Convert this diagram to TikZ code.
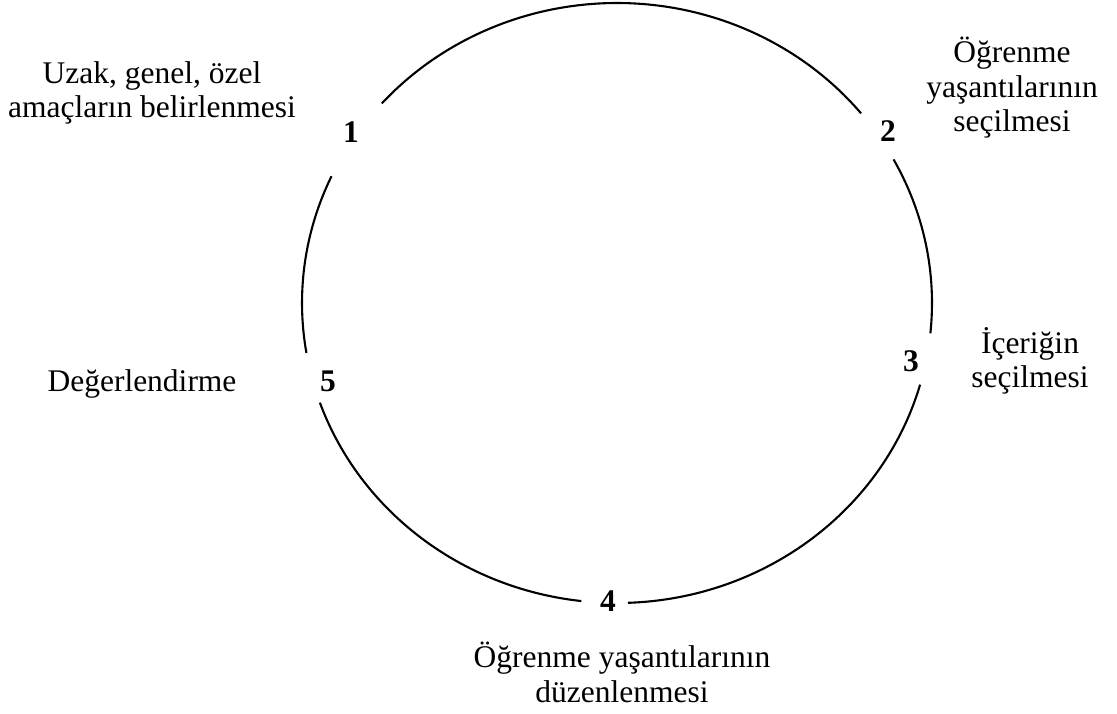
\documentclass[tikz,border=0pt]{standalone}
\usepackage{fontspec}
\setmainfont{Liberation Serif}
\begin{document}
\begin{tikzpicture}[x=1pt,y=1pt,
  lbl/.style={inner sep=0pt, align=center, anchor=base, font=\fontsize{31.5}{34.5}\selectfont},
  num/.style={inner sep=0pt, anchor=base, font=\fontsize{31.5}{34.5}\selectfont\bfseries},
  ring/.style={line width=2.1pt}]
\useasboundingbox (0,0) rectangle (1117,713);
\coordinate (c) at (617,410);
% numbers
\node[num] (n1) at (351,570) {1};
\node[num] (n2) at (888,571) {2};
\node[num] (n3) at (911,341) {3};
\node[num] (n4) at (608,102) {4};
\node[num] (n5) at (328,321) {5};
% labels (base anchor = baseline of the last line)
\node[lbl] (l1) at (152,595) {Uzak, genel, özel\\amaçların belirlenmesi};
\node[lbl] (l2) at (1012,581) {Öğrenme\\yaşantılarının\\seçilmesi};
\node[lbl] (l3) at (1030,325) {İçeriğin\\seçilmesi};
\node[lbl] (l4) at (622,11) {Öğrenme yaşantılarının\\düzenlenmesi};
\node[lbl] (l5) at (142,321) {Değerlendirme};
% ring arcs between the numbered points
\draw[ring] ([shift={(39.2:315 and 300)}]c) arc[start angle=39.2, end angle=138.3, x radius=315, y radius=300];
\draw[ring] ([shift={(155:315 and 300)}]c) arc[start angle=155, end angle=189.6, x radius=315, y radius=300];
\draw[ring] ([shift={(199.4:315 and 300)}]c) arc[start angle=199.4, end angle=263.5, x radius=315, y radius=300];
\draw[ring] ([shift={(272:315 and 300)}]c) arc[start angle=272, end angle=344.2, x radius=315, y radius=300];
\draw[ring] ([shift={(354.2:315 and 300)}]c) arc[start angle=354.2, end angle=388.6, x radius=315, y radius=300];
\end{tikzpicture}
\end{document}
